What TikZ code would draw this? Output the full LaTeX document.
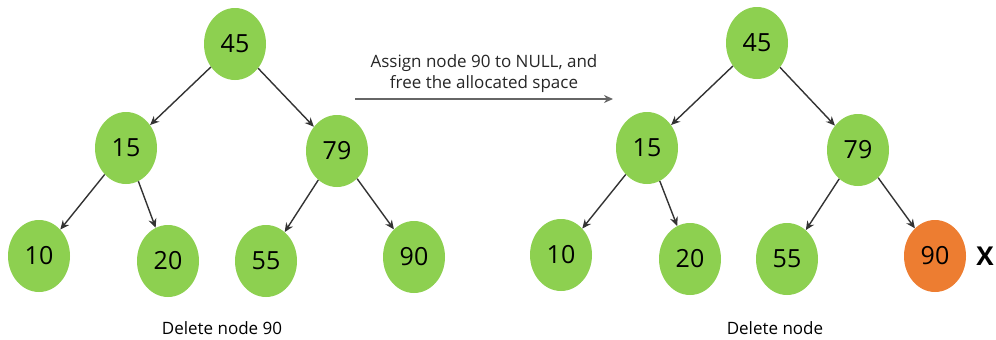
\documentclass[tikz,border=0pt]{standalone}
\usepackage{fontspec}
\setmainfont{Open Sans}
\usetikzlibrary{arrows.meta, shapes.geometric}

\definecolor{leafgreen}{RGB}{141,208,80}
\definecolor{delorange}{RGB}{237,125,49}

\begin{document}
\begin{tikzpicture}[
    x=1pt, y=-1pt,
    key/.style={ellipse, fill=leafgreen, minimum width=62pt, minimum height=72pt,
                inner sep=0pt, font=\fontsize{25}{25}\selectfont},
    gone/.style={key, fill=delorange},
    arr/.style={-{Stealth[length=9pt, width=8pt]}, line width=1.4pt, draw=black!80},
    bigarr/.style={-{Stealth[length=9pt, width=8pt]}, line width=1.8pt, draw=black!60},
    caption/.style={font=\fontsize{17}{21}\selectfont}
]
\useasboundingbox (0,0) rectangle (996,340);

% Left tree
\node[key] (l45) at (235,44) {45};
\node[key] (l15) at (126,148) {15};
\node[key] (l79) at (337,151) {79};
\node[key] (l10) at (39,256) {10};
\node[key] (l20) at (168,261) {20};
\node[key] (l55) at (266,261) {55};
\node[key] (l90) at (414,257) {90};
\draw[arr] (l45) -- (l15); \draw[arr] (l45) -- (l79);
\draw[arr] (l15) -- (l10); \draw[arr] (l15) -- (l20);
\draw[arr] (l79) -- (l55); \draw[arr] (l79) -- (l90);
\node[caption] (lcap) at (222,328) {Delete node 90};

% Step arrow
\coordinate (a0) at (355,99);
\coordinate (a1) at (613,99);
\draw[bigarr] (a0) -- node[above=2pt, caption, align=center, text=black!85]
    {Assign node 90 to NULL, and\\free the allocated space} (a1);

% Right tree
\node[key] (r45) at (757,43) {45};
\node[key] (r15) at (647,148) {15};
\node[key] (r79) at (858,150) {79};
\node[key] (r10) at (561,255) {10};
\node[key] (r20) at (690,259) {20};
\node[key] (r55) at (787,259) {55};
\node[gone] (r90) at (935,256) {90};
\draw[arr] (r45) -- (r15); \draw[arr] (r45) -- (r79);
\draw[arr] (r15) -- (r10); \draw[arr] (r15) -- (r20);
\draw[arr] (r79) -- (r55); \draw[arr] (r79) -- (r90);
\node[font=\fontsize{26}{26}\selectfont\bfseries] (mark) at (985,256) {X};
\node[caption] (rcap) at (775,328) {Delete node};

\end{tikzpicture}
\end{document}
